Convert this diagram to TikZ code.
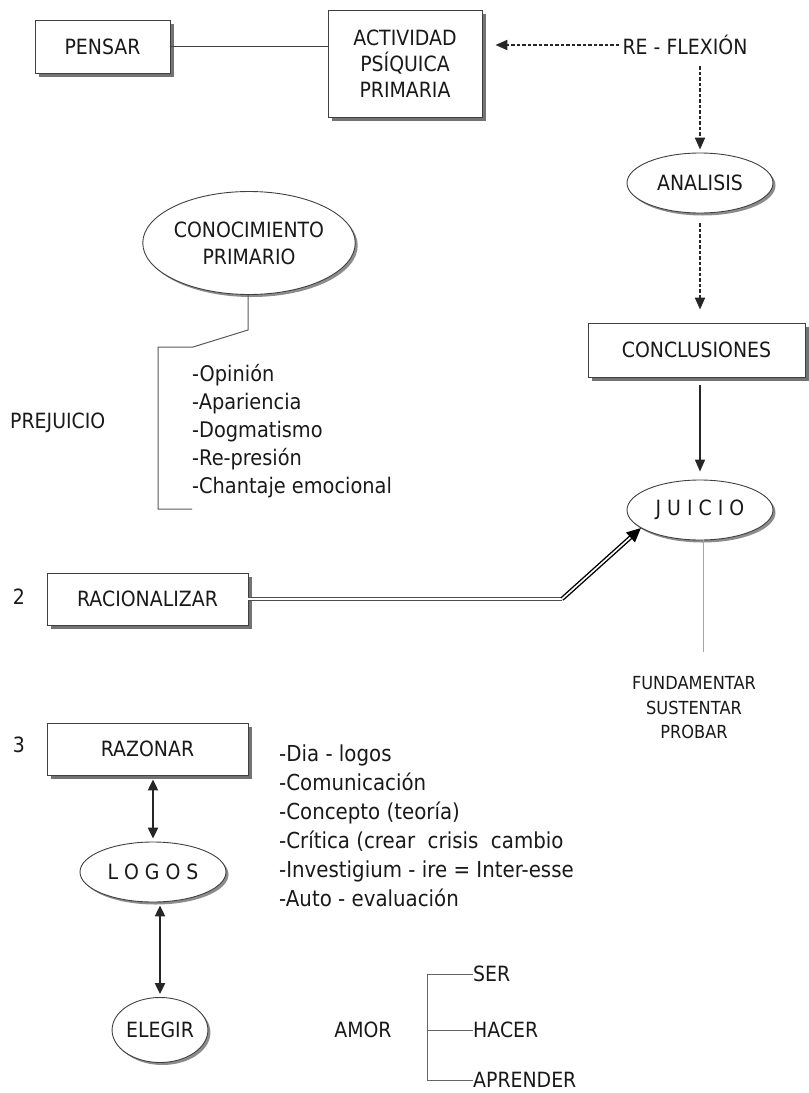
\documentclass[tikz,border=0pt]{standalone}
\usepackage{fontspec}
\setmainfont{DejaVu Sans}[FakeStretch=0.9]
\usetikzlibrary{shapes.geometric,shadows,arrows.meta}
\begin{document}
\begin{tikzpicture}[x=1pt,y=-1pt,
  every node/.style={inner sep=0pt, text=black!90},
  txt/.style={font=\fontsize{21}{26}\selectfont},
  boxnode/.style={rectangle, draw=black!75, line width=0.9pt, fill=white,
    align=center, font=\fontsize{21}{26}\selectfont,
    drop shadow={shadow xshift=3.5pt, shadow yshift=-3.5pt, fill=black!55, opacity=1}},
  ovalnode/.style={ellipse, draw=black!75, line width=0.9pt, fill=white,
    align=center, font=\fontsize{21}{27}\selectfont,
    drop shadow={shadow xshift=2.5pt, shadow yshift=-2.5pt, fill=black!45, opacity=1}},
  plainline/.style={draw=black!75, line width=1pt},
  thinline/.style={draw=black!35, line width=0.7pt},
  dasharrow/.style={draw=black!85, line width=2pt, dash pattern=on 3.5pt off 2pt,
    -{Triangle[length=12pt,width=10pt]}},
  solidarrow/.style={draw=black!85, line width=1.7pt, -{Triangle[length=12pt,width=10pt]}},
  botharrow/.style={draw=black!85, line width=2.2pt,
    {Triangle[length=11pt,width=10pt]}-{Triangle[length=11pt,width=10pt]}},
]
\useasboundingbox (0,0) rectangle (809,1093);

% ---- top row ----
\node[boxnode, minimum width=135pt, minimum height=53pt] (pensar) at (102.5,46.5) {PENSAR};
\node[boxnode, minimum width=154pt, minimum height=107pt] (act) at (405,63.5)
  {ACTIVIDAD\\PSÍQUICA\\PRIMARIA};
\node[txt] (reflex) at (685,45) {RE - FLEXIÓN};
\draw[plainline] (pensar.east) -- (act.west |- pensar.east);
\draw[dasharrow, shorten <=3pt, shorten >=13pt] (reflex.west) -- (reflex.west -| act.east);

% ---- right column ----
\node[ovalnode, minimum width=146pt, minimum height=60pt] (anal) at (700,183) {ANALISIS};
\node[boxnode, minimum width=217pt, minimum height=54pt] (concl) at (696.5,350) {CONCLUSIONES};
\node[ovalnode, minimum width=146pt, minimum height=60pt] (juicio) at (700,510) {J U I C I O};
\draw[dasharrow, shorten <=11pt, shorten >=3pt] (anal.north |- reflex.south) -- (anal.north);
\draw[dasharrow, shorten <=10pt, shorten >=13pt] (anal.south) -- (anal.south |- concl.north);
\draw[solidarrow, shorten <=8pt, shorten >=8pt] (juicio.north |- concl.south) -- (juicio.north);

\node[align=center, font=\fontsize{18}{24.5}\selectfont] (fund) at (694,708)
  {FUNDAMENTAR\\SUSTENTAR\\PROBAR};
\coordinate (fundtop) at (703,652);
\draw[thinline] (juicio.south -| fundtop) -- (fundtop);

% ---- conocimiento primario ----
\node[ovalnode, minimum width=182pt, minimum height=103pt] (cono) at (249,243)
  {CONOCIMIENTO\\PRIMARIO};
\coordinate (b1) at (248,330);
\coordinate (b2) at (193,347);
\coordinate (b3) at (158,347);
\coordinate (b4) at (158,509);
\coordinate (b5) at (192,509);
\draw[plainline, draw=black!65] (cono.south -| b1) -- (b1) -- (b2) -- (b3) -- (b4) -- (b5);
\node[txt, anchor=west, align=left, font=\fontsize{21.5}{28}\selectfont] (prejlist) at (192,431)
  {-Opinión\\-Apariencia\\-Dogmatismo\\-Re-presión\\-Chantaje emocional};
\node[txt, anchor=west] (prej) at (10,423) {PREJUICIO};

% ---- racionalizar ----
\node[txt] (n2) at (19,597) {2};
\node[boxnode, minimum width=201pt, minimum height=52pt] (rac) at (147.5,599) {RACIONALIZAR};
\coordinate (bend) at (562,599);
\draw[draw=black!70, line width=0.9pt, double=white, double distance=1.6pt] (rac.east) -- (bend);
\draw[draw=black, line width=1.4pt, double=white, double distance=1.6pt,
  -{Triangle[length=14pt,width=13pt]}] (bend) -- (juicio.197);

% ---- razonar ----
\node[txt] (n3) at (19,745) {3};
\node[boxnode, minimum width=201pt, minimum height=52pt] (raz) at (147.5,749) {RAZONAR};
\node[ovalnode, minimum width=146pt, minimum height=60pt] (logos) at (153,872) {L O G O S};
\node[ovalnode, minimum width=95pt, minimum height=65pt] (elegir) at (160,1030) {ELEGIR};
\draw[botharrow, shorten <=4pt, shorten >=3pt] (logos.north |- raz.south) -- (logos.north);
\draw[botharrow, shorten <=3pt, shorten >=3pt] (elegir.north |- logos.south) -- (elegir.north);
\node[txt, anchor=west, align=left, font=\fontsize{22}{29}\selectfont] (razlist) at (279,825.5)
  {-Dia - logos\\-Comunicación\\-Concepto (teoría)\\-Crítica (crear\ \ crisis\ \ cambio\\
   -Investigium - ire = Inter-esse\\-Auto - evaluación};

% ---- amor ----
\node[txt] (amor) at (363,1030) {AMOR};
\node[txt, anchor=west] (ser) at (473,974) {SER};
\node[txt, anchor=west] (hacer) at (473,1030) {HACER};
\node[txt, anchor=west] (aprender) at (473,1080) {APRENDER};
\coordinate (t1) at (427,974);
\coordinate (t2) at (427,1030);
\coordinate (t3) at (427,1080);
\draw[plainline, draw=black!60] (ser.west) -- (t1) -- (t3) -- (aprender.west);
\draw[plainline, draw=black!60] (t2) -- (hacer.west);
\end{tikzpicture}
\end{document}
